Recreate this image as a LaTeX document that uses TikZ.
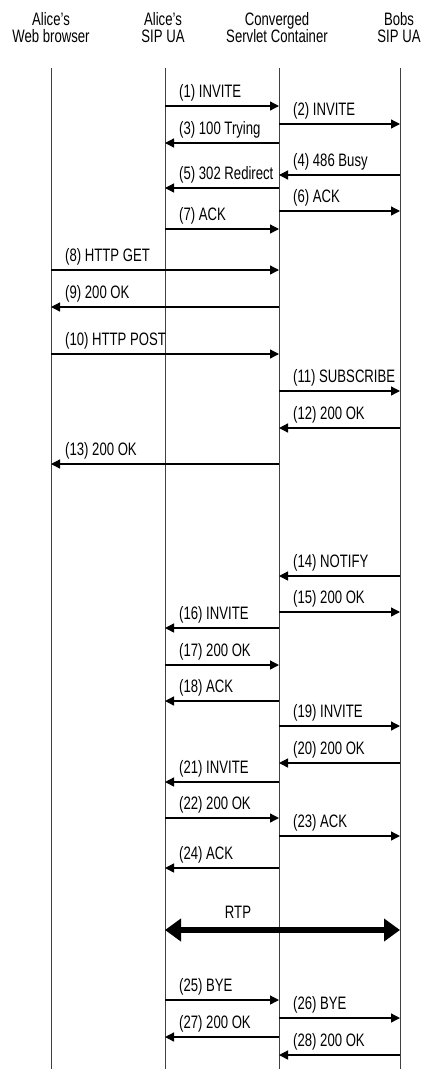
\documentclass[tikz,border=0pt]{standalone}
\usepackage{fontspec}
\setmainfont{Liberation Sans}[FakeStretch=0.73]
\usetikzlibrary{arrows.meta}
\begin{document}
\begin{tikzpicture}[x=1pt,y=-1pt,
    every node/.style={font=\fontsize{18}{17}\selectfont, inner sep=0pt},
    life/.style={black!75, line width=1pt},
    msg/.style={line width=1.3pt, -{Triangle[length=9pt,width=9pt]}},
    lbl/.style={anchor=base west}]
    \useasboundingbox (0,0) rectangle (421,1069);
    \coordinate (web) at (51,68);
    \coordinate (sua) at (165,68);
    \coordinate (csc) at (279,68);
    \coordinate (bua) at (400,68);
    \node[anchor=north, align=center] (hweb) at (51,12) {Alice's\\Web browser};
    \node[anchor=north, align=center] (hsua) at (163,12) {Alice's\\SIP UA};
    \node[anchor=north, align=center] (hcsc) at (277,12) {Converged\\Servlet Container};
    \node[anchor=north, align=center] (hbua) at (399,12) {Bobs\\SIP UA};
    \foreach \l in {web,sua,csc,bua}
        \draw[life] (\l) -- (\l |- 0,1069);
    % Mensajes: altura / origen / destino / linea izquierda / texto.
    \foreach \y/\a/\b/\p/\t in {
        106/sua/csc/sua/(1) INVITE,
        124/csc/bua/csc/(2) INVITE,
        143/csc/sua/sua/(3) 100 Trying,
        175/bua/csc/csc/(4) 486 Busy,
        188/csc/sua/sua/(5) 302 Redirect,
        211/csc/bua/csc/(6) ACK,
        229/sua/csc/sua/(7) ACK,
        270/web/csc/web/(8) HTTP GET,
        307/csc/web/web/(9) 200 OK,
        354/web/csc/web/(10) HTTP POST,
        391/csc/bua/csc/(11) SUBSCRIBE,
        428/bua/csc/csc/(12) 200 OK,
        464/csc/web/web/(13) 200 OK,
        576/bua/csc/csc/(14) NOTIFY,
        612/csc/bua/csc/(15) 200 OK,
        628/csc/sua/sua/(16) INVITE,
        665/sua/csc/sua/(17) 200 OK,
        701/csc/sua/sua/(18) ACK,
        726/csc/bua/csc/(19) INVITE,
        763/bua/csc/csc/(20) 200 OK,
        782/csc/sua/sua/(21) INVITE,
        818/sua/csc/sua/(22) 200 OK,
        836/csc/bua/csc/(23) ACK,
        868/csc/sua/sua/(24) ACK,
        1000/sua/csc/sua/(25) BYE,
        1018/csc/bua/csc/(26) BYE,
        1037/csc/sua/sua/(27) 200 OK,
        1055/bua/csc/csc/(28) 200 OK} {
        \draw[msg] (\a |- 0,\y) -- (\b |- 0,\y);
        \node[lbl] (m\y) at ([xshift=14pt,yshift=9pt]\p |- 0,\y) {\t};
    }
    \draw[line width=6pt, {Triangle[length=16pt,width=22pt]}-{Triangle[length=16pt,width=22pt]}]
        (sua |- 0,930) -- (bua |- 0,930);
    \node[anchor=base] (rtp) at (238,918) {RTP};
\end{tikzpicture}
\end{document}
